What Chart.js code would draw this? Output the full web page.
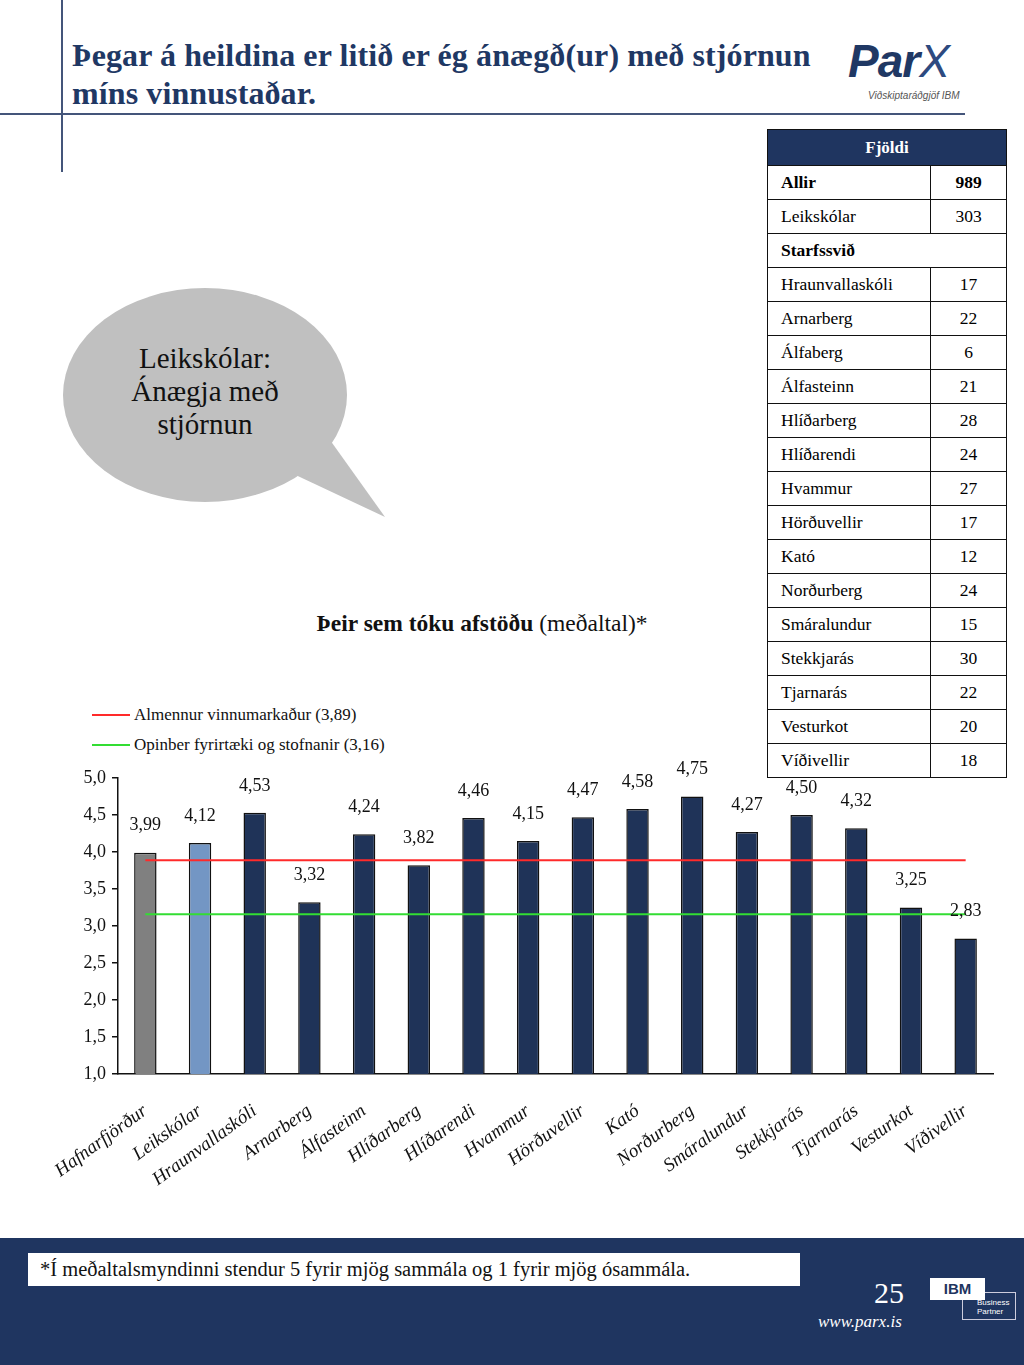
<!DOCTYPE html>
<html lang="is">
<head>
<meta charset="utf-8">
<title>Ánægja með stjórnun</title>
<script src="https://cdn.jsdelivr.net/npm/chart.js@4.4.1/dist/chart.umd.min.js"></script>
<style>
  html, body { margin: 0; padding: 0; background: #fff; }
  body { width: 1024px; height: 1365px; position: relative; overflow: hidden; font-family: "Liberation Serif", serif; }
  .abs { position: absolute; }
  #vline { left: 61px; top: 0; width: 1.5px; height: 172px; background: #44557a; }
  #hline { left: 0; top: 113px; width: 965px; height: 1.5px; background: #44557a; }
  #title { left: 72px; top: 36px; font-size: 32px; font-weight: bold; color: #1f3864; line-height: 38px; letter-spacing: 0.1px; }
  #logo { left: 848px; top: 34px; font-family: "Liberation Sans", sans-serif; font-style: italic; font-weight: bold; font-size: 46px; color: #1f3864; letter-spacing: -1px; }
  #logo .x { color: #2d4a80; font-weight: normal; }
  #logoSub { left: 868px; top: 90px; font-family: "Liberation Sans", sans-serif; font-style: italic; font-size: 10px; color: #555; }
  #tbl { left: 767px; top: 129px; border-collapse: collapse; font-size: 17.5px; }
  #tbl td { border: 1.5px solid #111; height: 33px; padding: 0 0 0 13px; }
  #tbl td.n { text-align: center; padding: 0; width: 75px; }
  #tbl td.name { width: 149px; }
  #tbl th { background: #1f3560; color: #fff; height: 33px; border: 1.5px solid #111; font-size: 17px; }
  #tbl .b { font-weight: bold; }
  #bubble { left: 0; top: 270px; }
  #bubbleText { left: 75px; top: 342px; width: 260px; text-align: center; font-size: 29px; line-height: 33px; color: #111; }
  #chartTitle { left: 0; width: 964px; top: 610px; text-align: center; font-size: 23.5px; color: #111; }
  #legend { left: 92px; top: 700px; font-size: 17px; color: #111; }
  #legend div { height: 30px; display: flex; align-items: center; }
  #legend span.l { display: inline-block; width: 38px; height: 2px; margin-right: 4px; }
  #chartBox { left: 0; top: 760px; width: 1010px; height: 440px; }
  #footer { left: 0; top: 1238px; width: 1024px; height: 127px; background: #1f3560; }
  #note { left: 28px; top: 1253px; width: 760px; height: 33px; background: #fff; font-size: 20.5px; line-height: 33px; padding-left: 12px; color: #111; }
  #page { left: 874px; top: 1276px; font-size: 30px; color: #fff; }
  #url { left: 818px; top: 1312px; font-size: 17px; font-style: italic; color: #fff; }
  #ibm { left: 930px; top: 1278px; width: 55px; height: 22px; background: #fff; font-family: "Liberation Sans", sans-serif; font-weight: bold; font-size: 15px; color: #1f3560; text-align: center; line-height: 22px; }
  #bp { left: 962px; top: 1292px; width: 54px; height: 28px; border: 1px solid #ccd; font-family: "Liberation Sans", sans-serif; font-size: 8px; color: #fff; line-height: 9px; box-sizing: border-box; padding: 5px 0 0 14px; }
</style>
</head>
<body>
<div id="vline" class="abs"></div>
<div id="hline" class="abs"></div>
<div id="title" class="abs">Þegar á heildina er litið er ég ánægð(ur) með stjórnun<br>míns vinnustaðar.</div>
<div id="logo" class="abs">Par<span class="x">X</span></div>
<div id="logoSub" class="abs">Viðskiptaráðgjöf IBM</div>

<table id="tbl" class="abs"></table>

<svg id="bubble" class="abs" width="400" height="260" viewBox="0 270 400 260">
  <polygon points="285,470 330,440 385,517" fill="#c0c0c0"/>
  <ellipse cx="205" cy="395" rx="142" ry="107" fill="#c0c0c0"/>
</svg>
<div id="bubbleText" class="abs">Leikskólar:<br>Ánægja með<br>stjórnun</div>

<div id="chartTitle" class="abs"><b>Þeir sem tóku afstöðu</b> (meðaltal)*</div>
<div id="legend" class="abs"></div>

<div id="chartBox" class="abs"><canvas id="barChart"></canvas></div>

<div id="footer" class="abs"></div>
<div id="note" class="abs">*Í meðaltalsmyndinni stendur 5 fyrir mjög sammála og 1 fyrir mjög ósammála.</div>
<div id="page" class="abs">25</div>
<div id="url" class="abs">www.parx.is</div>
<div id="bp" class="abs">Business<br>Partner</div>
<div id="ibm" class="abs">IBM</div>

<script>
// Gögn úr myndinni
const categories = ["Hafnarfjörður", "Leikskólar", "Hraunvallaskóli", "Arnarberg", "Álfasteinn", "Hlíðarberg",
    "Hlíðarendi", "Hvammur", "Hörðuvellir", "Kató", "Norðurberg", "Smáralundur", "Stekkjarás", "Tjarnarás",
    "Vesturkot", "Víðivellir"];
const meanValues = [3.99, 4.12, 4.53, 3.32, 4.24, 3.82, 4.46, 4.15, 4.47, 4.58, 4.75, 4.27, 4.50, 4.32, 3.25, 2.83];
const almennurValue = 3.89;
const opinberValue = 3.16;
const legendLabels = ["Almennur vinnumarkaður (3,89)", "Opinber fyrirtæki og stofnanir (3,16)"];
const yTickValues = [1.0, 1.5, 2.0, 2.5, 3.0, 3.5, 4.0, 4.5, 5.0];

// Fjöldatafla
const tableNames = ["Hraunvallaskóli", "Arnarberg", "Álfaberg", "Álfasteinn", "Hlíðarberg", "Hlíðarendi", "Hvammur",
    "Hörðuvellir", "Kató", "Norðurberg", "Smáralundur", "Stekkjarás", "Tjarnarás", "Vesturkot", "Víðivellir"];
const tableCounts = [17, 22, 6, 21, 28, 24, 27, 17, 12, 24, 15, 30, 22, 20, 18];
const allirCount = 989;
const leikskolarCount = 303;

const barColors = categories.map((c, i) => i === 0 ? "#808080" : (i === 1 ? "#7396c4" : "#1f3358"));
const lineColors = ["#ff2a2a", "#33dd33"];
const fontFamily = "'Liberation Serif', serif";

const fmt = (v, d) => v.toFixed(d).replace(".", ",");

// tafla
const tbl = document.getElementById("tbl");
let rows = '<tr><th colspan="2">Fjöldi</th></tr>';
rows += '<tr><td class="name b">Allir</td><td class="n b">' + allirCount + '</td></tr>';
rows += '<tr><td class="name">Leikskólar</td><td class="n">' + leikskolarCount + '</td></tr>';
rows += '<tr><td class="b" colspan="2">Starfssvið</td></tr>';
tableNames.forEach((name, i) => {
    rows += '<tr><td class="name">' + name + '</td><td class="n">' + tableCounts[i] + '</td></tr>';
});
tbl.innerHTML = rows;

// skýringar
document.getElementById("legend").innerHTML = legendLabels.map((t, i) =>
    '<div><span class="l" style="background:' + lineColors[i] + '"></span>' + t + '</div>').join("");

// gildi ofan á súlum
const valueLabels = {
    id: "valueLabels",
    afterDatasetsDraw(chart) {
        const ctx = chart.ctx;
        const meta = chart.getDatasetMeta(0);
        ctx.save();
        ctx.font = "18px " + fontFamily;
        ctx.fillStyle = "#111";
        ctx.textAlign = "center";
        ctx.textBaseline = "middle";
        meta.data.forEach((bar, i) => {
            ctx.fillText(fmt(meanValues[i], 2), bar.x, bar.y - 27);
        });
        ctx.restore();
    }
};

const ctx = document.getElementById("barChart").getContext("2d");
new Chart(ctx, {
    type: "bar",
    data: {
        labels: categories,
        datasets: [
            {
                label: "Meðaltal",
                data: meanValues,
                backgroundColor: barColors,
                borderColor: "#111",
                borderWidth: 1.5,
                barPercentage: 0.41,
                categoryPercentage: 1,
                order: 2
            },
            {
                type: "line",
                label: legendLabels[0],
                data: categories.map(() => almennurValue),
                borderColor: lineColors[0],
                borderWidth: 2,
                pointRadius: 0,
                order: 1
            },
            {
                type: "line",
                label: legendLabels[1],
                data: categories.map(() => opinberValue),
                borderColor: lineColors[1],
                borderWidth: 2,
                pointRadius: 0,
                order: 1
            }
        ]
    },
    options: {
        responsive: true,
        maintainAspectRatio: false,
        animation: false,
        layout: { padding: { top: 18, right: 17, left: 0, bottom: 0 } },
        plugins: {
            legend: { display: false },
            tooltip: { enabled: false }
        },
        scales: {
            y: {
                min: 1,
                max: 5,
                afterFit(scale) { scale.width = 118; },
                afterBuildTicks(scale) { scale.ticks = yTickValues.map(v => ({ value: v })); },
                ticks: {
                    color: "#111",
                    font: { family: fontFamily, size: 18 },
                    padding: 6,
                    callback: v => fmt(v, 1)
                },
                grid: { drawOnChartArea: false, drawTicks: true, tickLength: 6, color: "#111", lineWidth: 1.5 },
                border: { color: "#111", width: 1.5 }
            },
            x: {
                afterFit(scale) { scale.height = 126; },
                ticks: {
                    color: "#111",
                    font: { family: fontFamily, size: 19, style: "italic" },
                    minRotation: 36,
                    maxRotation: 36,
                    autoSkip: false,
                    padding: 26
                },
                grid: { display: false, drawTicks: false },
                border: { color: "#111", width: 1.5 }
            }
        }
    },
    plugins: [valueLabels]
});
</script>
</body>
</html>
